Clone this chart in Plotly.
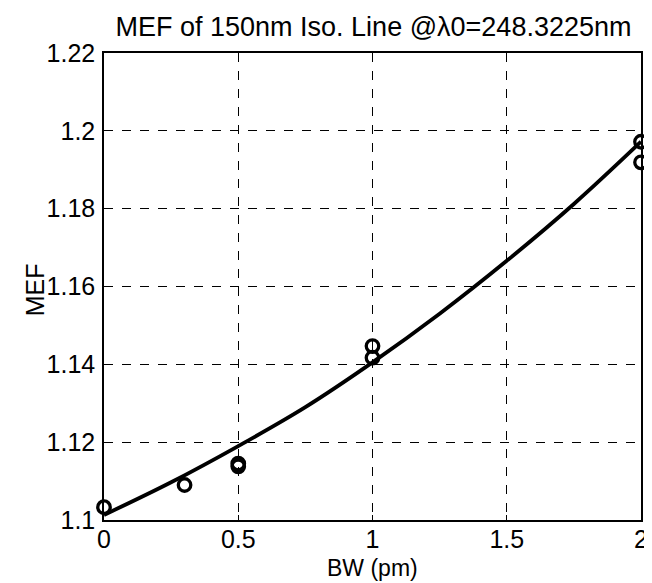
import plotly.graph_objects as go

# measured points (BW in pm, MEF)
bw_points = [0, 0.3, 0.5, 0.5, 1, 1, 2, 2]
mef_points = [1.1033, 1.1090, 1.1145, 1.1138, 1.1447, 1.1417, 1.1972, 1.1919]

# fitted curve
bw_curve = [0, 0.25, 0.5, 0.75, 1.0, 1.25, 1.5, 1.75, 2.0]
mef_curve = [1.1013, 1.1097, 1.1190, 1.1290, 1.1405, 1.1530, 1.1666, 1.1812, 1.1972]

x_ticks = [0, 0.5, 1, 1.5, 2]
x_tick_text = ["0", "0.5", "1", "1.5", "2"]
y_ticks = [1.1, 1.12, 1.14, 1.16, 1.18, 1.2, 1.22]
y_tick_text = ["1.1", "1.12", "1.14", "1.16", "1.18", "1.2", "1.22"]

FONT = "Liberation Sans, Arial, sans-serif"
W, H = 652, 583
L, R, T, B = 96, 17, 45, 71
PW, PH = W - L - R, H - T - B
BOTTOM = H - B

fig = go.Figure()
fig.add_trace(go.Scatter(
    x=bw_curve, y=mef_curve, mode="lines", line=dict(color="black", width=3.8, shape="spline"),
    showlegend=False, hoverinfo="skip", cliponaxis=False))
fig.add_trace(go.Scatter(
    x=bw_points, y=mef_points, mode="markers",
    marker=dict(symbol="circle-open", size=12.5, color="black", line=dict(width=3.3, color="black")),
    showlegend=False, cliponaxis=False))

axis_common = dict(
    showline=True, linecolor="black", linewidth=1.5, mirror=True,
    showgrid=True, gridcolor="black", gridwidth=1, griddash="dash",
    ticks="inside", ticklen=5, tickcolor="black", zeroline=False,
    tickfont=dict(family=FONT, size=25, color="black"),
)
fig.update_xaxes(range=[0, 2], tickvals=x_ticks, ticktext=x_tick_text,
                 ticklabelstandoff=-4, **axis_common)
fig.update_yaxes(range=[1.1, 1.22], tickvals=y_ticks, ticktext=y_tick_text,
                 ticklabelstandoff=2, **axis_common)

fig.update_layout(
    width=W, height=H,
    margin=dict(l=L, r=R, t=T, b=B),
    paper_bgcolor="white", plot_bgcolor="white",
    title=dict(text="MEF of 150nm Iso. Line @λ0=248.3225nm", x=(L + PW / 2) / W,
               xanchor="center", y=1 - 19 / H, yanchor="middle", yref="container",
               font=dict(family=FONT, size=27, color="black")),
    annotations=[
        dict(text="MEF", textangle=-90, xref="paper", yref="paper",
             x=(27 - L) / PW, y=(BOTTOM - 282) / PH,
             xanchor="center", yanchor="middle", showarrow=False,
             font=dict(family=FONT, size=25, color="black")),
        dict(text="BW (pm)", xref="paper", yref="paper",
             x=0.5, y=(BOTTOM - 560) / PH,
             xanchor="center", yanchor="middle", showarrow=False, borderpad=0,
             font=dict(family=FONT, size=23, color="black")),
    ],
)

fig.write_html("out.html")
